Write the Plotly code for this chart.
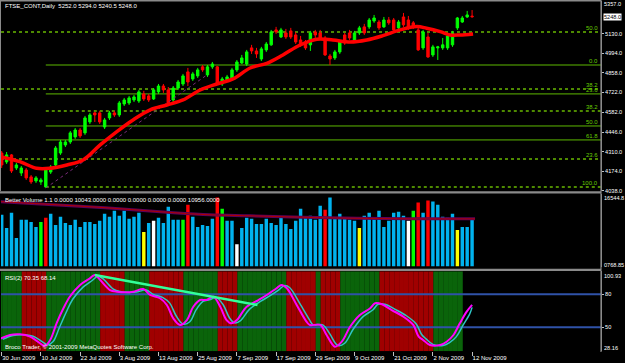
import plotly.graph_objects as go

# ---------------- data ----------------
date_labels = ["30 Jun 2009", "10 Jul 2009", "22 Jul 2009", "3 Aug 2009", "13 Aug 2009",
               "25 Aug 2009", "7 Sep 2009", "17 Sep 2009", "29 Sep 2009", "9 Oct 2009",
               "21 Oct 2009", "2 Nov 2009", "12 Nov 2009"]
date_bars = [0, 8, 16, 24, 32, 40, 48, 56, 64, 72, 80, 88, 96]

bars = list(range(97))
opens = [4300, 4238, 4287, 4196, 4161, 4182, 4134, 4106, 4099, 4064,
         4168, 4217, 4300, 4356, 4377, 4412, 4460, 4440, 4516, 4579,
         4579, 4481, 4544, 4579, 4565, 4641, 4648, 4669, 4662, 4711,
         4697, 4676, 4725, 4766, 4739, 4669, 4752, 4780, 4864, 4815,
         4836, 4899, 4843, 4899, 4899, 4780, 4808, 4822, 4878, 4926,
         4919, 5031, 5010, 4954, 5017, 5052, 5156, 5107, 5135, 5149,
         5121, 5086, 5072, 5052, 5142, 5135, 5100, 4975, 4961, 5003,
         5121, 5135, 5086, 5135, 5177, 5177, 5218, 5211, 5177, 5225,
         5225, 5170, 5246, 5225, 5205, 5156, 5031, 5107, 4982, 5031,
         5031, 5031, 5052, 5170, 5211, 5246, 5252]
highs = [4314, 4307, 4293, 4231, 4210, 4196, 4147, 4140, 4127, 4196,
         4217, 4349, 4391, 4391, 4453, 4474, 4474, 4558, 4579, 4586,
         4593, 4544, 4593, 4593, 4662, 4683, 4697, 4704, 4739, 4732,
         4711, 4752, 4780, 4780, 4759, 4766, 4808, 4850, 4892, 4864,
         4892, 4912, 4912, 4933, 4905, 4829, 4843, 4892, 4947, 4982,
         5017, 5052, 5031, 5038, 5072, 5156, 5177, 5170, 5163, 5170,
         5142, 5114, 5086, 5149, 5156, 5156, 5114, 4989, 5017, 5086,
         5135, 5156, 5149, 5184, 5198, 5239, 5260, 5225, 5246, 5246,
         5239, 5225, 5274, 5253, 5218, 5170, 5156, 5135, 5052, 5045,
         5100, 5121, 5149, 5246, 5253, 5288, 5294]
lows = [4196, 4224, 4161, 4182, 4140, 4113, 4085, 4092, 4078, 4057,
        4154, 4203, 4287, 4342, 4363, 4398, 4405, 4426, 4502, 4516,
        4502, 4467, 4530, 4551, 4551, 4627, 4634, 4655, 4648, 4662,
        4655, 4669, 4711, 4718, 4627, 4655, 4739, 4766, 4766, 4801,
        4822, 4864, 4829, 4885, 4780, 4766, 4794, 4808, 4864, 4919,
        4905, 4989, 4961, 4940, 5003, 5045, 5128, 5100, 5093, 5093,
        5058, 5038, 5017, 5010, 5100, 5086, 4975, 4912, 4947, 4989,
        5052, 5086, 5072, 5121, 5121, 5163, 5205, 5156, 5170, 5191,
        5149, 5156, 5177, 5156, 5163, 5010, 5017, 4961, 4968, 4947,
        5017, 5017, 5038, 5156, 5205, 5239, 5240.5]
closes = [4217, 4287, 4175, 4217, 4196, 4127, 4099, 4127, 4113, 4182,
          4203, 4335, 4377, 4377, 4440, 4460, 4419, 4544, 4565, 4565,
          4516, 4530, 4579, 4565, 4648, 4669, 4683, 4690, 4725, 4676,
          4669, 4739, 4766, 4739, 4641, 4752, 4794, 4836, 4794, 4850,
          4878, 4878, 4899, 4919, 4787, 4815, 4829, 4878, 4933, 4961,
          5003, 5010, 4989, 5024, 5058, 5142, 5142, 5156, 5107, 5107,
          5072, 5052, 5031, 5135, 5121, 5100, 4982, 4954, 5003, 5072,
          5065, 5100, 5135, 5170, 5135, 5225, 5239, 5170, 5225, 5205,
          5156, 5211, 5191, 5170, 5177, 5017, 5142, 4968, 5038, 5038,
          5052, 5114, 5135, 5239, 5239, 5260, 5248]

ma_x = [-0.35, 3.7, 7.1, 9.9, 13.3, 16.6, 20.1, 23.5, 26.8, 30.3, 33.7, 37.0, 40.5, 43.9,
        47.2, 50.7, 54.1, 57.4, 60.9, 64.3, 67.6, 71.1, 74.5, 77.8, 81.3, 84.7, 86.7,
        89.5, 91.5, 93.5, 96.2]
ma_y = [4275, 4240, 4194, 4194, 4217, 4251, 4356, 4449, 4530, 4600, 4634, 4669, 4738, 4780,
        4815, 4891, 4924, 4982, 5051, 5091, 5086, 5072, 5086, 5116, 5156, 5179, 5168,
        5144, 5121, 5121, 5128]

trend_x = [9.0, 41.9]
trend_y = [4057, 4843]

fibA_labels = ["0.0", "23.6", "38.2", "50.0", "61.8", "100.0"]
fibA_prices = [4912, 4711, 4592, 4488, 4391, 4063]
fibA_dash = ["solid", "solid", "dot", "solid", "solid", "dot"]
fibA_start = 9.0
fibB_labels = ["50.0", "38.2", "23.6"]
fibB_prices = [5142, 4745, 4258]

price_ticks = [5130, 4994, 4858, 4722, 4582, 4446, 4310, 4174, 4038]
price_top = 5357.0
price_bottom = 4038.0
last_price = 5248.0

volumes = [11720, 8732, 12179, 6434, 10571, 10571, 10111, 8962, 10111, 11030,
           11950, 9422, 11260, 9881, 9422, 10571, 8962, 10111, 10111, 9652,
           10341, 11950, 11260, 12639, 11490, 12639, 10801, 11260, 12179, 7813,
           9881, 10341, 11030, 9881, 13558, 10571, 10571, 10571, 14018, 11260,
           8962, 9422, 9192, 10801, 15626, 13099, 10341, 10341, 5056, 8732,
           11030, 10801, 9652, 9652, 10801, 9881, 9422, 11030, 9652, 8503,
           10341, 13099, 11030, 11490, 10571, 13788, 12869, 15626, 10801, 11950,
           10801, 10571, 10341, 8732, 11490, 12179, 10801, 12639, 8962, 10341,
           12179, 12409, 11490, 10341, 12639, 14477, 12179, 14937, 14707, 14018,
           11260, 11030, 11950, 8273, 8962, 8962, 10956]
vol_special = {8: "green", 37: "green", 45: "green", 84: "green",
               9: "red", 38: "red", 44: "red", 66: "red", 85: "red", 87: "red",
               29: "yellow", 73: "yellow", 93: "yellow",
               31: "white", 48: "white", 83: "white"}
vol_max = 16544.8
volma_x = [-0.35, 21.1, 34.4, 42.5, 50.7, 67.0, 83.3, 96.6]
volma_y = [14707, 13328, 12248, 11720, 11490, 11030, 10801, 10801]

rsi_x = [-0.35, 1.7, 3.7, 5.8, 7.8, 8.8, 9.9, 11.2, 12.6, 13.9, 16.0, 18.0, 19.0, 20.1, 22.1,
         23.5, 26.9, 28.9, 30.3, 32.3, 33.7, 35.0, 36.4, 37.8, 39.1, 40.5, 41.8, 43.2, 44.6,
         45.9, 46.9, 48.0, 50.0, 52.4, 54.1, 56.1, 57.1, 58.2, 60.2, 62.2, 62.9, 65.0, 66.3,
         68.0, 69.4, 71.1, 73.1, 75.2, 76.2, 77.6, 79.6, 82.0, 84.0, 85.1, 86.0, 87.4, 89.5,
         90.8, 92.2, 93.5, 94.9, 96.0]
rsi_y = [39.4, 43.0, 43.6, 41.5, 35.5, 33.0, 38.5, 53.6, 67.3, 77.8, 88.5, 94.5, 97.5, 93.0,
         83.9, 82.4, 82.4, 84.8, 79.4, 76.4, 70.3, 58.2, 52.1, 56.6, 68.7, 74.8, 74.8, 77.8,
         68.7, 56.6, 53.6, 56.6, 68.7, 74.8, 79.4, 85.5, 88.5, 85.5, 70.3, 55.1, 52.1, 52.1,
         43.0, 32.4, 36.9, 50.5, 61.2, 67.3, 71.8, 70.9, 65.7, 59.6, 52.1, 41.5, 38.5, 33.9,
         33.9, 36.9, 43.0, 53.6, 64.2, 70.35]
sig_x = [0.2, 2.3, 4.3, 6.4, 8.4, 9.4, 10.5, 11.8, 13.2, 14.5, 16.6, 18.6, 19.6, 20.7, 22.7,
         24.1, 27.5, 29.5, 30.9, 32.9, 34.3, 35.6, 37.0, 38.4, 39.7, 41.1, 42.4, 43.8, 45.2,
         46.5, 47.5, 48.6, 50.6, 53.0, 54.7, 56.7, 57.7, 58.8, 60.8, 62.8, 63.5, 65.6, 66.9,
         68.6, 70.0, 71.7, 73.7, 75.8, 76.8, 78.2, 80.2, 82.6, 84.6, 85.7, 86.6, 88.0, 90.1,
         91.4, 92.8, 94.1, 95.5, 96.0]
sig_y = [39.0, 42.5, 43.2, 41.8, 36.5, 34.0, 37.0, 50.0, 64.0, 75.5, 86.5, 93.0, 96.5, 94.0,
         85.0, 82.5, 82.0, 84.0, 80.0, 77.0, 72.0, 60.5, 53.0, 55.0, 66.0, 73.5, 75.0, 77.0,
         70.5, 58.5, 54.0, 55.5, 66.5, 74.0, 78.5, 84.5, 88.0, 86.0, 72.0, 57.0, 52.5, 52.0,
         44.5, 33.5, 35.5, 48.0, 59.5, 66.0, 71.0, 71.0, 66.5, 60.5, 53.0, 43.5, 39.5, 34.5,
         33.5, 36.0, 41.5, 51.5, 62.0, 68.14]
band_runs = [("up", 5), ("down", 5), ("up", 11), ("down", 5), ("up", 5), ("down", 7),
             ("up", 7), ("down", 4), ("up", 10), ("down", 6), ("up", 1), ("down", 4),
             ("up", 8), ("down", 11), ("up", 6)]
rsi_levels = [80, 50]
rsi_max, rsi_min = 100.93, 28.16
rsi_trend_x = [19.0, 52.2]
rsi_trend_y = [97.5, 70.3]

# ---------------- layout geometry ----------------
W, H = 625, 363
PL, PR = 1, 601
X0, X1 = -0.143, 122.31


def px2x(px):
    return (px - PL) / (PR - PL)


def py2y(py):
    return 1 - py / H


dom_main = [py2y(190.7), py2y(1)]
dom_vol = [py2y(266.5), py2y(193.5)]
dom_rsi = [py2y(351.3), py2y(271.3)]

FONT = "Liberation Sans"
GRAY = "#8A8A8A"

fig = go.Figure()

# candles
fig.add_trace(go.Candlestick(
    x=bars, open=opens, high=highs, low=lows, close=closes,
    increasing=dict(line=dict(color="#00FF00", width=1), fillcolor="#00FF00"),
    decreasing=dict(line=dict(color="#FF0000", width=1), fillcolor="#FF0000"),
    xaxis="x", yaxis="y", hoverinfo="skip"))
fig.add_trace(go.Scatter(x=trend_x, y=trend_y, mode="lines",
                         line=dict(color="#7A2A7A", width=1, dash="dot"), yaxis="y"))
fig.add_trace(go.Scatter(x=ma_x, y=ma_y, mode="lines", line=dict(color="#FF0000", width=3.5, shape="spline"),
                         yaxis="y"))

# volume
pal = {"blue": "#00B2EE", "green": "#00FF00", "red": "#FF0000", "yellow": "#FFFF00", "white": "#FFFFFF"}
vcols = [pal[vol_special.get(i, "blue")] for i in bars]
fig.add_trace(go.Bar(x=bars, y=volumes, marker=dict(color=vcols, line=dict(width=0)), width=0.7,
                     yaxis="y2", hoverinfo="skip"))
fig.add_trace(go.Scatter(x=volma_x, y=volma_y, mode="lines", line=dict(color="#5A005A", width=3, shape="spline"),
                         yaxis="y2"))
fig.add_trace(go.Scatter(x=volma_x, y=volma_y, mode="lines", line=dict(color="#B00000", width=1, shape="spline"),
                         yaxis="y2"))

# RSI bands
band_x, band_c = [], []
k = 0
for state, n in band_runs:
    for _ in range(n):
        band_x.append(k)
        band_c.append("#0A640A" if state == "up" else "#A00000")
        k += 1
fig.add_trace(go.Bar(x=band_x, y=[rsi_max - rsi_min] * len(band_x), base=rsi_min, width=1, offset=-0.9,
                     marker=dict(color=band_c, line=dict(width=0)), yaxis="y3", hoverinfo="skip"))
for lv in rsi_levels:
    fig.add_trace(go.Scatter(x=[X0, X1], y=[lv, lv], mode="lines", line=dict(color="#2F52A8", width=2),
                             yaxis="y3"))
fig.add_trace(go.Scatter(x=sig_x, y=sig_y, mode="lines", line=dict(color="#2EC4C4", width=1.5, shape="spline"),
                         yaxis="y3"))
fig.add_trace(go.Scatter(x=rsi_x, y=rsi_y, mode="lines", line=dict(color="#FF00FF", width=2, shape="spline"),
                         yaxis="y3"))
fig.add_trace(go.Scatter(x=rsi_trend_x, y=rsi_trend_y, mode="lines", line=dict(color="#33FF99", width=2.5),
                         yaxis="y3"))

shapes = []
annotations = []
# fibonacci lines
for lab, p, d in zip(fibA_labels, fibA_prices, fibA_dash):
    shapes.append(dict(type="line", xref="x", yref="y", x0=fibA_start, x1=X1, y0=p, y1=p, layer="below",
                       line=dict(color="#5DB800" if d == "solid" else "#4E8A00", width=1 if d == "solid" else 2,
                                 dash=d)))
    annotations.append(dict(xref="paper", yref="y", x=px2x(600), y=p, text=lab, showarrow=False,
                            xanchor="right", yanchor="middle", yshift=4, font=dict(color="#66CC00", size=6)))
for lab, p in zip(fibB_labels, fibB_prices):
    shapes.append(dict(type="line", xref="x", yref="y", x0=X0, x1=X1, y0=p, y1=p, layer="below",
                       line=dict(color="#4E8A00", width=2, dash="dot")))
    annotations.append(dict(xref="paper", yref="y", x=px2x(600), y=p, text=lab, showarrow=False,
                            xanchor="right", yanchor="middle", yshift=4, font=dict(color="#66CC00", size=6)))

# separators and borders
for a, b in [(191.3, 193.5), (268.8, 270.9)]:
    shapes.append(dict(type="rect", xref="paper", yref="paper", x0=px2x(0), x1=px2x(PR), y0=py2y(b), y1=py2y(a),
                       fillcolor=GRAY, line=dict(width=0), layer="above"))
shapes.append(dict(type="line", xref="paper", yref="paper", x0=px2x(0), x1=px2x(PR), y0=py2y(0.8), y1=py2y(0.8),
                   line=dict(color=GRAY, width=1.5), layer="above"))
shapes.append(dict(type="line", xref="paper", yref="paper", x0=px2x(0.5), x1=px2x(0.5), y0=py2y(191), y1=py2y(0),
                   line=dict(color=GRAY, width=1), layer="above"))
shapes.append(dict(type="line", xref="paper", yref="paper", x0=1, x1=1, y0=py2y(352), y1=py2y(0),
                   line=dict(color=GRAY, width=1.2), layer="above"))

# texts
txt = dict(showarrow=False, xref="paper", yref="paper", xanchor="left", yanchor="middle",
           font=dict(color="white", size=6))
annotations.append(dict(txt, x=px2x(3), y=py2y(6),
                        text="FTSE_CONT,Daily  5252.0 5294.0 5240.5 5248.0"))
annotations.append(dict(txt, x=px2x(3), y=py2y(200),
                        text="Better Volume 1.1 0.0000 10043.0000 0.0000 0.0000 0.0000 0.0000 10956.0000"))
annotations.append(dict(txt, x=px2x(3), y=py2y(277.5), text="RSI(2) 70.35 68.14"))
annotations.append(dict(txt, x=px2x(3), y=py2y(346.5),
                        text="Broco Trader, © 2001-2009 MetaQuotes Software Corp."))
rtxt = dict(txt, font=dict(color="white", size=5.6), borderpad=0)
annotations.append(dict(rtxt, x=px2x(603), y=py2y(3.5), text="%.1f" % price_top))
annotations.append(dict(rtxt, x=px2x(603), y=py2y(198.3), text="%.1f" % vol_max))
annotations.append(dict(rtxt, x=px2x(603), y=py2y(264.5), text="0768.85"))
annotations.append(dict(rtxt, x=px2x(603), y=py2y(275.7), text="%.2f" % rsi_max))
annotations.append(dict(rtxt, x=px2x(603), y=py2y(348.3), text="%.2f" % rsi_min))
annotations.append(dict(showarrow=False, xref="paper", yref="y", x=px2x(603), y=last_price, xanchor="left",
                        yanchor="middle", text="%.1f" % last_price, bgcolor="white", borderpad=0,
                        font=dict(color="black", size=5.6)))

axis_common = dict(showgrid=False, zeroline=False, side="right", anchor="x", showline=True,
                   linecolor=GRAY, ticks="outside", ticklen=2, tickcolor="#C0C0C0", automargin=False,
                   tickfont=dict(color="white", size=5.6, family=FONT))

fig.update_layout(
    width=W, height=H, margin=dict(l=PL, r=W - PR, t=0, b=0, autoexpand=False),
    paper_bgcolor="black", plot_bgcolor="black", showlegend=False, barmode="overlay",
    font=dict(family=FONT, size=6, color="white"),
    xaxis=dict(domain=[0, 1], range=[X0, X1], anchor="y3", tickvals=date_bars, ticktext=date_labels,
               tickangle=0, automargin=False,
               ticks="outside", ticklen=4, tickcolor="#C0C0C0", ticklabelposition="outside right",
               tickfont=dict(color="white", size=6, family=FONT), showgrid=False, zeroline=False,
               showline=False, rangeslider=dict(visible=False)),
    yaxis=dict(axis_common, domain=dom_main, range=[price_bottom, price_top], tickvals=price_ticks,
               ticktext=["%.1f" % v for v in price_ticks]),
    yaxis2=dict(axis_common, domain=dom_vol, range=[0, vol_max], tickvals=[], ticks=""),
    yaxis3=dict(axis_common, domain=dom_rsi, range=[rsi_min, rsi_max], tickvals=rsi_levels,
                ticktext=[str(v) for v in rsi_levels]),
    shapes=shapes, annotations=annotations,
)

fig.write_html("out.html")
